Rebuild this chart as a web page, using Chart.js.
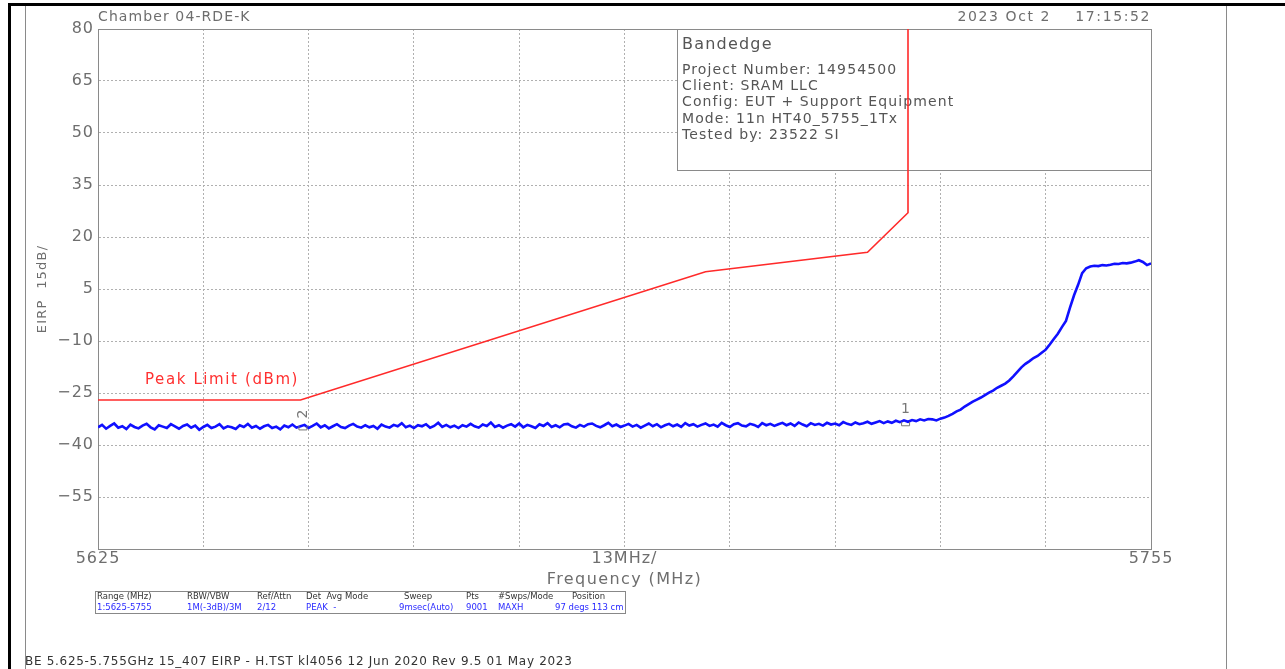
<!DOCTYPE html>
<html>
<head>
<meta charset="utf-8">
<script src="https://cdn.jsdelivr.net/npm/chart.js@4/dist/chart.umd.min.js"></script>
<style>
  html, body { margin: 0; padding: 0; background: #fff; }
  canvas { display: block; }
</style>
</head>
<body>
<canvas id="plot" width="1285" height="669"></canvas>
<script>
// Axis setup
const freqMin = 5625, freqMax = 5755, freqStep = 13;
const levelMin = -70, levelMax = 80, levelStep = 15;
const yTickLabels = [80, 65, 50, 35, 20, 5, -10, -25, -40, -55];

// Peak limit mask (dBm)
const limitFreqs = [5625, 5650, 5700, 5720, 5725, 5725];
const limitLevels = [-27, -27, 10, 15.6, 27, 80];

// Measured trace, swept at 0.5 MHz from 5625 MHz
const traceStartMHz = 5625;
const traceStepMHz = 0.5;
const traceLevels = [
  -34.9,-34.2,-35.3,-34.5,-33.8,-35.0,-34.6,-35.4,-34.1,-34.8,
  -35.2,-34.4,-33.9,-34.9,-35.5,-34.3,-34.7,-35.1,-34.0,-34.6,
  -35.3,-34.5,-34.1,-35.0,-34.4,-35.6,-34.8,-34.2,-35.1,-34.7,
  -34.0,-35.2,-34.6,-34.9,-35.4,-34.3,-34.8,-33.9,-35.0,-34.5,
  -35.3,-34.6,-34.2,-35.1,-34.7,-35.5,-34.4,-34.9,-34.1,-35.0,
  -34.6,-34.2,-35.1,-34.5,-33.8,-34.9,-34.3,-35.2,-34.6,-34.0,
  -34.8,-35.1,-34.4,-33.9,-34.7,-35.0,-34.3,-34.9,-34.5,-35.3,
  -34.1,-34.7,-35.0,-34.2,-34.6,-33.7,-34.9,-34.4,-35.1,-34.3,
  -34.6,-34.0,-35.0,-34.5,-33.6,-34.8,-34.2,-34.9,-34.4,-35.1,
  -34.3,-34.7,-33.9,-34.6,-35.0,-34.1,-34.5,-33.5,-34.8,-34.3,
  -35.0,-34.4,-34.0,-34.7,-33.8,-34.9,-34.2,-34.6,-35.1,-34.0,
  -34.5,-33.7,-34.8,-34.3,-34.9,-34.1,-33.9,-34.6,-35.0,-34.2,
  -34.7,-34.0,-33.8,-34.5,-34.9,-34.3,-33.6,-34.6,-34.1,-34.8,
  -34.4,-33.9,-34.7,-34.2,-35.0,-34.4,-33.8,-34.6,-34.0,-34.9,
  -34.3,-33.9,-34.6,-34.1,-34.8,-33.7,-34.4,-34.0,-34.7,-34.2,
  -33.8,-34.5,-34.1,-34.7,-33.6,-34.3,-34.8,-34.0,-33.7,-34.4,
  -34.6,-33.9,-34.2,-34.8,-33.7,-34.3,-33.9,-34.5,-34.0,-33.6,
  -34.3,-33.8,-34.5,-33.5,-34.1,-34.6,-33.7,-34.2,-33.9,-34.4,
  -33.6,-34.1,-33.8,-34.3,-33.4,-33.9,-34.2,-33.5,-34.0,-33.7,
  -33.3,-33.9,-33.5,-33.1,-33.7,-33.2,-33.6,-33.0,-33.4,-32.9,
  -33.3,-32.8,-33.1,-32.6,-32.9,-32.5,
  -32.6,-32.9,-32.4,-32.1,-31.6,-31.0,-30.3,-29.8,-28.9,-28.2,
  -27.5,-26.9,-26.3,-25.6,-24.9,-24.3,-23.5,-22.9,-22.3,-21.4,
  -20.2,-18.9,-17.6,-16.6,-15.8,-14.9,-14.3,-13.4,-12.5,-11.0,
  -9.4,-7.9,-6.0,-4.2,-0.4,3.2,6.2,9.6,11.0,11.5,
  11.7,11.6,11.9,11.8,12.0,12.3,12.2,12.5,12.4,12.6,
  12.9,13.3,12.8,11.9,12.4
];

// Markers
const markerNames = ["1", "2"];
const markerFreqs = [5724.7, 5650.3];
const markerLevels = [-33.3, -34.5];

// Annotation texts
const headerLeft = "Chamber 04-RDE-K";
const headerRight = "2023 Oct 2    17:15:52";
const infoTitle = "Bandedge";
const infoLines = [
  "Project Number: 14954500",
  "Client: SRAM LLC",
  "Config: EUT + Support Equipment",
  "Mode: 11n HT40_5755_1Tx",
  "Tested by: 23522 SI"
];
const tableHeads = ["Range (MHz)", "RBW/VBW", "Ref/Attn", "Det  Avg Mode", "Sweep", "Pts", "#Swps/Mode", "Position"];
const tableValues = ["1:5625-5755", "1M(-3dB)/3M", "2/12", "PEAK  -", "9msec(Auto)", "9001", "MAXH", "97 degs 113 cm"];
const footerText = "BE 5.625-5.755GHz 15_407 EIRP - H.TST kl4056 12 Jun 2020 Rev 9.5 01 May 2023";

const tracePoints = traceLevels.map((v, i) => ({ x: traceStartMHz + i * traceStepMHz, y: v }));
const limitPoints = limitFreqs.map((f, i) => ({ x: f, y: limitLevels[i] }));

const GREY = "#6e6e6e";
const FONT = '"DejaVu Sans", sans-serif';

function txt(ctx, s, x, y, font, color, align, spacing) {
  ctx.save();
  ctx.font = font;
  ctx.fillStyle = color;
  ctx.textAlign = align || "left";
  ctx.textBaseline = "middle";
  ctx.letterSpacing = (spacing || 0) + "px";
  ctx.fillText(s, x, y);
  ctx.restore();
}

// Page frame, header, table, footer
const pageDecor = {
  id: "pageDecor",
  beforeDraw(chart) {
    const ctx = chart.ctx;
    const area = chart.chartArea;
    ctx.save();
    ctx.fillStyle = "#fff";
    ctx.fillRect(0, 0, chart.width, chart.height);
    ctx.fillStyle = "#000";
    ctx.fillRect(8, 3, chart.width - 8, 3);
    ctx.fillRect(8, 3, 3, chart.height);
    ctx.fillStyle = "#8a8a8a";
    ctx.fillRect(25, 6, 1, chart.height);
    ctx.fillRect(1226, 6, 1, chart.height);
    ctx.restore();

    txt(ctx, headerLeft, area.left, 17, "14px " + FONT, GREY, "left", 1.1);
    txt(ctx, headerRight, area.right, 17, "14px " + FONT, GREY, "right", 1.6);

    // settings table
    const tx = [97, 187, 257, 306, 399, 466, 498, 555];
    const hx = [97, 187, 257, 306, 404, 466, 498, 572];
    ctx.save();
    ctx.strokeStyle = "#888";
    ctx.lineWidth = 1;
    ctx.strokeRect(95.5, 591.5, 530, 22);
    ctx.restore();
    tableHeads.forEach((s, i) => txt(ctx, s, hx[i], 597, "8.5px " + FONT, "#333", "left"));
    tableValues.forEach((s, i) => txt(ctx, s, tx[i], 608, "8.5px " + FONT, "#2a2aff", "left"));

    txt(ctx, footerText, 25, 662, "12px " + FONT, "#333", "left", 0.7);
  },
  beforeDatasetsDraw(chart) {
    const ctx = chart.ctx;
    const a = chart.chartArea;
    ctx.save();
    ctx.strokeStyle = "#8a8a8a";
    ctx.lineWidth = 1;
    ctx.strokeRect(Math.round(a.left) + 0.5, Math.round(a.top) + 0.5, Math.round(a.right - a.left), Math.round(a.bottom - a.top));
    // info box
    const bx = 677, by = Math.round(a.top), bw = Math.round(a.right) - bx, bh = 141;
    ctx.fillStyle = "#fff";
    ctx.fillRect(bx, by, bw, bh);
    ctx.strokeRect(bx + 0.5, by + 0.5, bw, bh);
    ctx.restore();
    txt(ctx, infoTitle, 682, 45, "16px " + FONT, "#555", "left", 1.2);
    infoLines.forEach((s, i) => txt(ctx, s, 682, 70 + i * 16.3, "14px " + FONT, "#555", "left", 1.1));
  },
  afterDatasetsDraw(chart) {
    const ctx = chart.ctx;
    const xs = chart.scales.x, ys = chart.scales.y;
    const a = chart.chartArea;
    const tickFont = "16px " + FONT;
    yTickLabels.forEach(v => txt(ctx, String(v).replace("-", "\u2212"), a.left - 4, ys.getPixelForValue(v), tickFont, GREY, "right", 1));
    txt(ctx, String(freqMin), xs.getPixelForValue(freqMin), 559, tickFont, GREY, "center", 1);
    txt(ctx, String(freqMax), xs.getPixelForValue(freqMax), 559, tickFont, GREY, "center", 1);
    txt(ctx, freqStep + "MHz/", xs.getPixelForValue((freqMin + freqMax) / 2), 559, tickFont, GREY, "center", 1);
    txt(ctx, "Frequency (MHz)", xs.getPixelForValue((freqMin + freqMax) / 2), 580, "16px " + FONT, GREY, "center", 1.4);

    ctx.save();
    ctx.translate(43, (a.top + a.bottom) / 2);
    ctx.rotate(-Math.PI / 2);
    txt(ctx, "EIRP  15dB/", 0, 0, "13px " + FONT, GREY, "center", 1.2);
    ctx.restore();

    // peak limit label
    txt(ctx, "Peak Limit (dBm)", 145, ys.getPixelForValue(limitLevels[0]) - 20, "15px " + FONT, "#ff3030", "left", 1.6);

    // markers
    markerNames.forEach((n, i) => {
      const px = xs.getPixelForValue(markerFreqs[i]);
      const py = ys.getPixelForValue(markerLevels[i]);
      ctx.save();
      ctx.strokeStyle = "#777";
      ctx.lineWidth = 1;
      ctx.beginPath();
      ctx.moveTo(px - 4, py);
      ctx.lineTo(px - 4, py + 4);
      ctx.lineTo(px + 4, py + 4);
      ctx.lineTo(px + 4, py);
      ctx.stroke();
      ctx.restore();
      if (n === "2") {
        ctx.save();
        ctx.translate(px, py - 12);
        ctx.rotate(-Math.PI / 2);
        txt(ctx, n, 0, 0, "14px " + FONT, "#777", "center");
        ctx.restore();
      } else {
        txt(ctx, n, px, py - 12, "14px " + FONT, "#777", "center");
      }
    });
  }
};

new Chart(document.getElementById("plot"), {
  type: "line",
  data: {
    datasets: [
      {
        label: "Trace",
        data: tracePoints,
        borderColor: "#1010ff",
        borderWidth: 2.6,
        pointRadius: 0,
        tension: 0
      },
      {
        label: "Peak Limit (dBm)",
        data: limitPoints,
        borderColor: "#ff2a2a",
        borderWidth: 1.6,
        pointRadius: 0,
        tension: 0
      }
    ]
  },
  options: {
    responsive: false,
    devicePixelRatio: 1,
    animation: false,
    layout: { padding: { left: 98, right: 134, top: 29, bottom: 120 } },
    plugins: { legend: { display: false }, tooltip: { enabled: false } },
    scales: {
      x: {
        type: "linear",
        min: freqMin,
        max: freqMax,
        ticks: { stepSize: freqStep, display: false },
        grid: { color: "#b0b0b0", drawTicks: false, lineWidth: 1 },
        border: { display: true, color: "#8a8a8a", dash: [2, 2] }
      },
      y: {
        type: "linear",
        min: levelMin,
        max: levelMax,
        ticks: { stepSize: levelStep, display: false },
        grid: { color: "#b0b0b0", drawTicks: false, lineWidth: 1 },
        border: { display: true, color: "#8a8a8a", dash: [2, 2] }
      }
    }
  },
  plugins: [pageDecor]
});
</script>
</body>
</html>
